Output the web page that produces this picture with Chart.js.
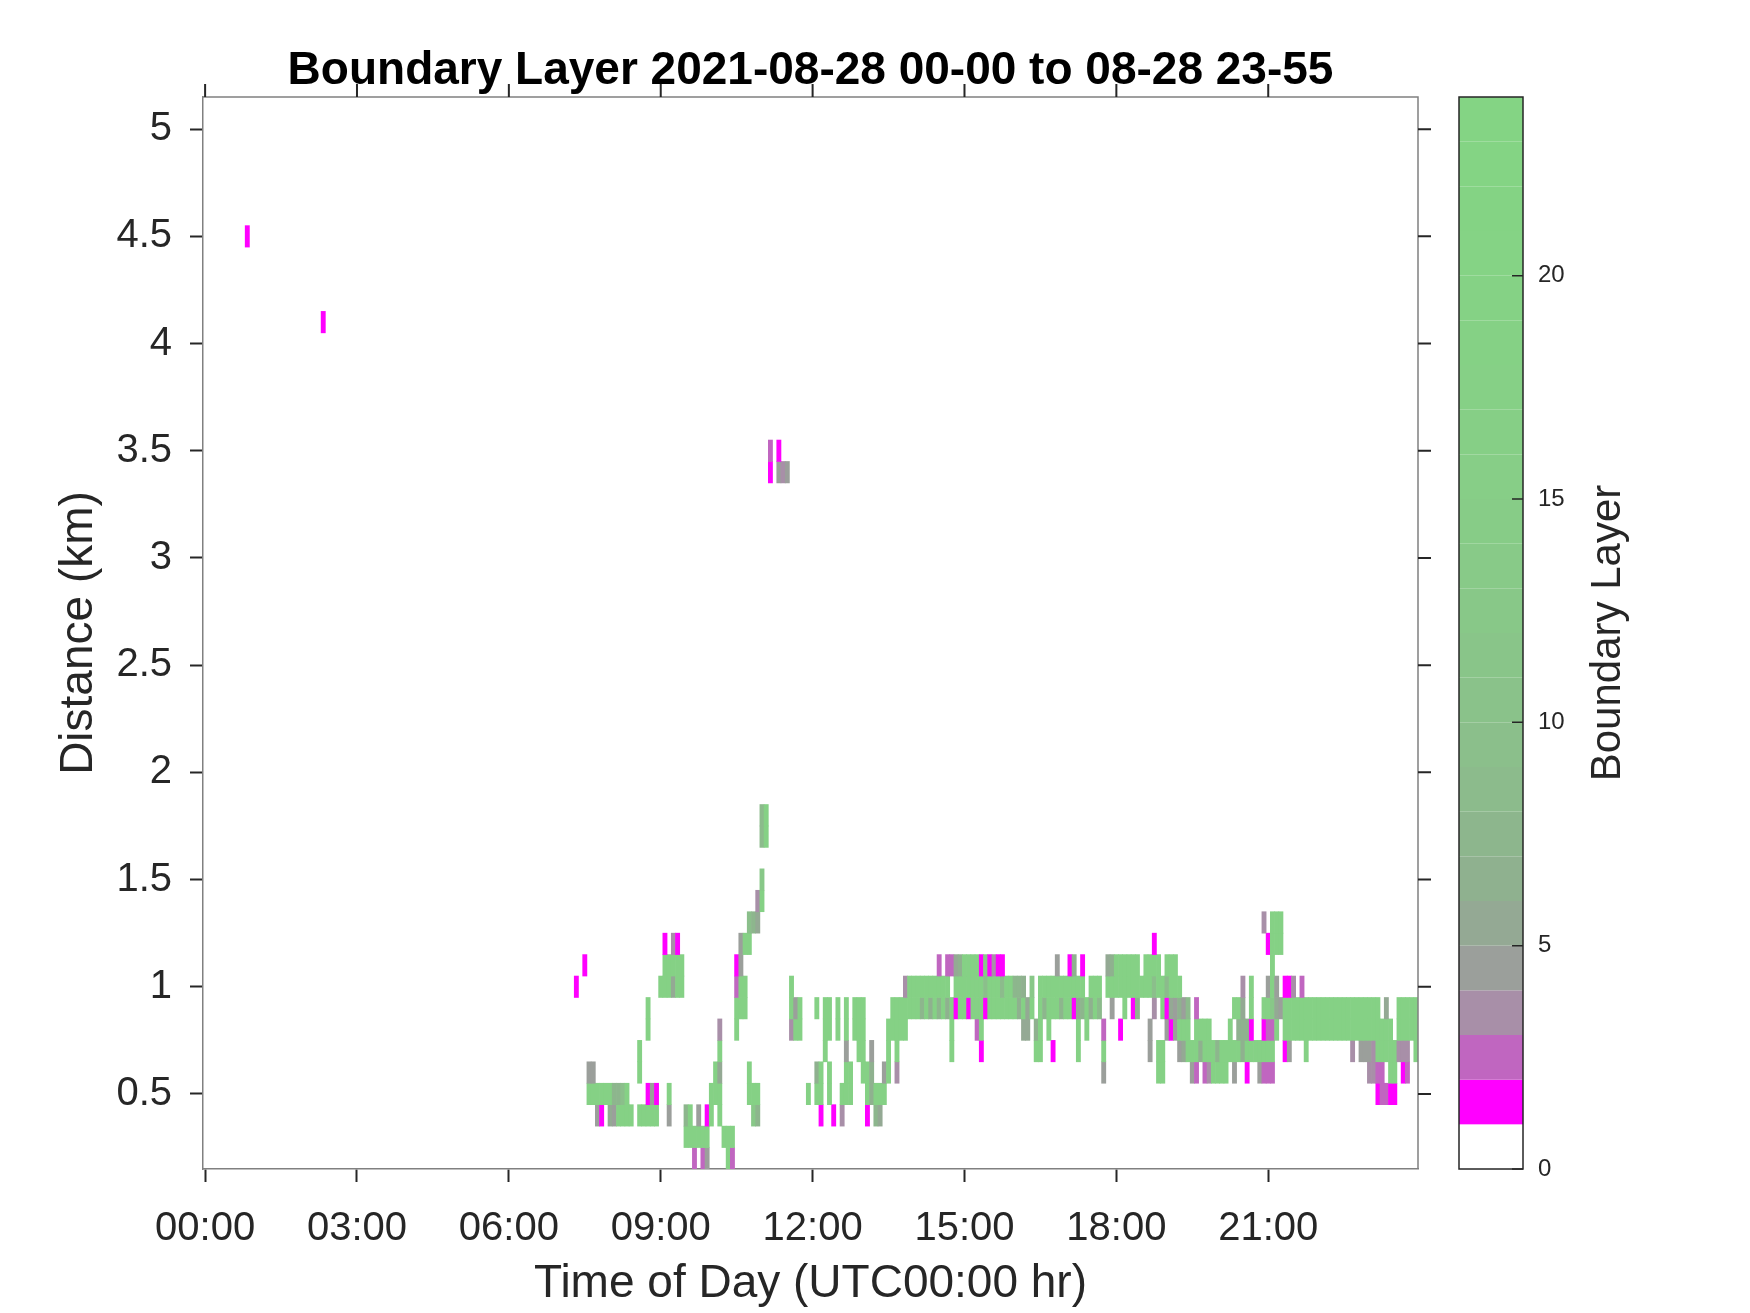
<!DOCTYPE html>
<html>
<head>
<meta charset="utf-8">
<title>Boundary Layer</title>
<script src="https://cdn.jsdelivr.net/npm/chart.js@4.4.0/dist/chart.umd.min.js"></script>
<style>
  html, body { margin: 0; padding: 0; background: #fff; }
</style>
</head>
<body>
<canvas id="canvas-bl" width="1750" height="1313"></canvas>
<script>
// slot k is the k-th 5 minute step after 00:00 UTC
var slotMinutes = 5;
var rowHalfKm = 0.05;

var timeTicks = [0, 3, 6, 9, 12, 15, 18, 21];
var timeTickLabels = ['00:00', '03:00', '06:00', '09:00', '12:00', '15:00', '18:00', '21:00'];
var distTicks = [0.5, 1, 1.5, 2, 2.5, 3, 3.5, 4, 4.5, 5];
var distTickLabels = ['0.5', '1', '1.5', '2', '2.5', '3', '3.5', '4', '4.5', '5'];
var levelTicks = [0, 5, 10, 15, 20];

// colour of each boundary layer level 0..23
var levelColors = [
  '#ffffff', '#ff00ff', '#c066c0', '#a88fa8', '#9b9f9b', '#94a994',
  '#8fb18f', '#8db68d', '#8cbb8c', '#8bbf8b', '#8ac28a', '#89c589',
  '#88c888', '#88ca88', '#87cc87', '#87ce87', '#86cf86', '#86d086',
  '#85d185', '#85d285', '#85d385', '#84d384', '#84d484', '#84d484'
];

// runs of cells per height row: [first slot, last slot, level]
var rowsKm = [0.2, 0.3, 0.4, 0.5, 0.6, 0.7, 0.8, 0.9, 1.0, 1.1, 1.2, 1.3, 1.4, 1.5, 1.7, 1.8, 3.4, 3.5, 4.1, 4.5];

var runs020 = [[116,116,2],[118,118,2],[119,119,4],[124,124,18],[125,125,2]];
var runs030 = [[114,119,18],[123,125,18]];
var runs040 = [[93,93,4],[94,94,1],[96,96,5],[97,97,4],[98,101,18],[103,107,18],[110,110,4],[114,114,7],
  [115,115,18],[117,117,4],[119,119,1],[120,120,18],[122,122,18],[130,130,12],[131,131,7],[146,146,1],
  [149,149,1],[151,151,3],[157,157,1],[159,159,7],[160,160,5]];
var runs050 = [[91,96,18],[97,98,7],[99,99,9],[100,100,18],[105,105,1],[106,106,4],[107,107,1],[110,110,18],
  [120,122,18],[129,131,18],[143,143,18],[145,146,18],[148,148,18],[151,153,18],[157,157,18],[158,158,6],
  [159,161,18],[278,278,1],[279,280,2],[281,282,1]];
var runs060 = [[91,92,4],[103,103,18],[121,121,18],[122,122,5],[129,129,18],[145,145,6],[146,146,18],
  [148,148,18],[152,153,18],[156,157,18],[158,158,6],[161,161,4],[162,162,18],[164,164,3],[213,213,4],
  [226,227,18],[234,234,4],[235,235,2],[237,237,2],[238,238,3],[239,242,18],[244,244,4],[247,247,1],
  [250,250,4],[251,253,2],[276,277,3],[278,279,2],[281,282,18],[284,284,1],[285,285,2]];
var runs070 = [[103,103,18],[122,122,18],[147,147,18],[152,152,4],[155,156,18],[158,158,4],[162,162,18],
  [164,164,18],[177,177,18],[184,184,1],[197,198,18],[201,201,1],[207,207,18],[213,213,18],[224,224,4],
  [226,227,18],[231,231,4],[232,232,5],[233,235,18],[236,236,6],[237,239,18],[240,240,7],[241,245,18],
  [246,246,6],[247,253,18],[256,256,1],[257,257,4],[261,261,18],[272,272,3],[274,276,4],[277,277,3],
  [278,282,18],[283,285,3],[287,287,18]];
var runs080 = [[105,105,18],[122,122,3],[126,126,18],[139,139,3],[140,141,18],[147,148,18],[150,150,18],
  [152,152,18],[154,156,18],[162,166,18],[177,177,18],[183,183,2],[184,184,18],[194,195,5],[197,197,6],
  [198,198,18],[200,200,18],[207,207,18],[209,209,18],[213,213,2],[217,217,1],[224,224,4],[228,228,4],
  [229,229,1],[230,230,4],[231,233,18],[235,238,18],[243,243,18],[245,247,6],[248,248,1],[251,251,1],
  [252,253,2],[254,254,18],[256,281,18],[283,287,18]];
var runs090 = [[105,105,18],[126,128,18],[139,139,18],[140,140,4],[141,141,18],[145,145,18],[147,148,18],
  [150,150,18],[152,152,18],[154,156,18],[163,169,18],[170,170,7],[171,171,18],[172,172,6],[173,173,18],
  [174,174,7],[175,175,18],[176,176,6],[177,177,18],[178,178,1],[179,180,18],[181,181,1],[182,184,18],
  [185,185,1],[186,192,18],[193,193,6],[194,194,18],[195,195,5],[196,196,18],[198,198,18],[199,199,7],
  [200,202,18],[203,203,7],[204,205,18],[206,206,1],[207,207,5],[208,208,7],[209,209,18],[210,210,6],
  [211,211,18],[212,212,8],[215,215,4],[218,218,18],[220,220,1],[221,221,6],[225,225,3],[227,227,18],
  [228,228,1],[229,229,5],[230,230,4],[231,231,6],[232,232,4],[233,233,8],[235,235,2],[244,245,18],
  [246,246,5],[248,248,18],[251,252,18],[253,253,12],[254,254,5],[255,255,4],[256,278,18],[280,280,5],
  [283,287,18]];
var runs100 = [[88,88,1],[108,110,18],[111,111,5],[112,113,18],[126,126,2],[127,128,18],[139,139,18],
  [166,166,3],[167,176,18],[178,184,18],[185,185,9],[186,188,18],[189,189,8],[190,191,18],[192,193,7],
  [194,194,6],[196,196,12],[198,208,18],[210,212,18],[214,224,18],[225,225,9],[226,227,18],[228,228,8],
  [229,231,18],[246,246,3],[248,248,18],[252,252,4],[253,253,18],[254,254,4],[256,257,1],[258,258,3],
  [260,260,2]];
var runs110 = [[90,90,1],[109,113,18],[126,126,1],[127,127,4],[174,174,2],[176,177,2],[178,178,5],
  [179,179,6],[180,183,18],[184,184,1],[185,185,12],[186,186,1],[187,187,3],[188,189,1],[202,202,4],
  [205,205,1],[206,206,6],[208,208,1],[214,214,5],[215,215,6],[216,221,18],[223,226,18],[228,230,18],
  [253,253,18]];
var runs120 = [[109,109,1],[111,111,3],[112,112,1],[127,127,4],[128,129,18],[225,225,1],[252,252,1],[253,255,18]];
var runs130 = [[129,129,9],[130,130,7],[131,131,5],[251,251,3],[253,255,18]];
var runs140 = [[131,131,3],[132,132,18]];
var runs150 = [[132,132,12]];
var runs170 = [[132,132,8],[133,133,18]];
var runs180 = [[132,132,8],[133,133,18]];
var runs340 = [[134,134,1],[136,136,4],[137,137,3],[138,138,4]];
var runs350 = [[134,134,2],[136,136,1]];
var runs410 = [[28,28,1]];
var runs450 = [[10,10,1]];

var rowRuns = [runs020, runs030, runs040, runs050, runs060, runs070, runs080, runs090, runs100, runs110,
  runs120, runs130, runs140, runs150, runs170, runs180, runs340, runs350, runs410, runs450];

function buildCells() {
    var cells = [];
    rowsKm.forEach(function (h, r) {
        rowRuns[r].forEach(function (run) {
            for (var k = run[0]; k <= run[1]; k++) {
                cells.push({x: k * slotMinutes / 60, y: [h - rowHalfKm, h + rowHalfKm], v: run[2]});
            }
        });
    });
    return cells;
}

var fontFamily = '"Liberation Sans", Arial, Helvetica, sans-serif';
var textColor = '#262626';
var halfSlotHours = slotMinutes / 2 / 60;

var frameAndColorbar = {
    id: 'frameAndColorbar',
    afterDraw: function (chart) {
        var ctx = chart.ctx;
        var area = chart.chartArea;
        var xs = chart.scales.x, ys = chart.scales.y, cb = chart.scales.cb;
        ctx.save();

        // top and right sides of the box
        ctx.strokeStyle = '#808080';
        ctx.lineWidth = 1.5;
        ctx.beginPath();
        ctx.moveTo(area.left, area.top);
        ctx.lineTo(area.right, area.top);
        ctx.lineTo(area.right, area.bottom);
        ctx.stroke();

        // mirrored ticks, pointing out
        ctx.strokeStyle = textColor;
        ctx.lineWidth = 2;
        ctx.beginPath();
        xs.ticks.forEach(function (t) {
            var px = xs.getPixelForValue(t.value);
            ctx.moveTo(px, area.top);
            ctx.lineTo(px, area.top - 13);
        });
        ys.ticks.forEach(function (t) {
            var py = ys.getPixelForValue(t.value);
            ctx.moveTo(area.right, py);
            ctx.lineTo(area.right + 13, py);
        });
        ctx.stroke();

        // colour bar
        var barLeft = cb.left + 41, barRight = cb.left + 105;
        levelColors.forEach(function (c, i) {
            var top = cb.getPixelForValue(i + 1), bottom = cb.getPixelForValue(i);
            ctx.fillStyle = c;
            ctx.fillRect(barLeft, top, barRight - barLeft, bottom - top);
        });
        ctx.strokeStyle = textColor;
        ctx.lineWidth = 1.5;
        ctx.strokeRect(barLeft, cb.getPixelForValue(24), barRight - barLeft,
            cb.getPixelForValue(0) - cb.getPixelForValue(24));
        ctx.beginPath();
        levelTicks.forEach(function (v) {
            var py = cb.getPixelForValue(v);
            ctx.moveTo(barRight - 11, py);
            ctx.lineTo(barRight, py);
        });
        ctx.stroke();

        ctx.fillStyle = textColor;
        ctx.font = '42px ' + fontFamily;
        ctx.textAlign = 'center';
        ctx.textBaseline = 'middle';
        ctx.save();
        ctx.translate(cb.left + 190, (area.top + area.bottom) / 2);
        ctx.rotate(-Math.PI / 2);
        ctx.fillText('Boundary Layer', 0, 0);
        ctx.restore();

        // title
        ctx.fillStyle = '#000000';
        ctx.font = 'bold 46px ' + fontFamily;
        ctx.textBaseline = 'alphabetic';
        ctx.fillText('Boundary Layer 2021-08-28 00-00 to 08-28 23-55', (area.left + area.right) / 2, 84);
        ctx.restore();
    }
};

function noVerticalPadding(s) {
    s.paddingTop = 0;
    s.paddingBottom = 0;
}

function plotBoundaryLayer() {
    var cells = buildCells();
    var config = {
        type: 'bar',
        data: {
            datasets: [{
                data: cells,
                backgroundColor: function (c) {
                    var cell = c.raw;
                    return cell ? levelColors[cell.v] : '#fff';
                },
                borderWidth: 0,
                barPercentage: 1,
                categoryPercentage: 1,
                grouped: false
            }]
        },
        options: {
            responsive: false,
            animation: false,
            layout: { padding: { top: 97, right: 100, bottom: 0, left: 0 } },
            plugins: { legend: { display: false }, tooltip: { enabled: false }, title: { display: false } },
            scales: {
                x: {
                    type: 'linear',
                    offset: false,
                    min: -halfSlotHours,
                    max: 24 - halfSlotHours,
                    afterBuildTicks: function (s) {
                        s.ticks = timeTicks.map(function (v) { return {value: v}; });
                    },
                    afterFit: function (s) { s.height = 144; },
                    ticks: {
                        autoSkip: false, maxRotation: 0, padding: 23, color: textColor,
                        font: { size: 40, family: fontFamily },
                        callback: function (v, i) { return timeTickLabels[i]; }
                    },
                    grid: { offset: false, drawOnChartArea: false, drawTicks: true, tickLength: 13, tickWidth: 2, tickColor: textColor },
                    border: { display: true, color: '#808080', width: 1.5 },
                    title: {
                        display: true, text: 'Time of Day (UTC00:00 hr)', color: textColor,
                        font: { size: 46, family: fontFamily }, padding: { top: 0, bottom: 1 }
                    }
                },
                y: {
                    type: 'linear',
                    min: 0.15,
                    max: 5.15,
                    afterBuildTicks: function (s) {
                        s.ticks = distTicks.map(function (v) { return {value: v}; });
                    },
                    afterFit: function (s) { s.width = 203; noVerticalPadding(s); },
                    ticks: {
                        padding: 18, color: textColor,
                        font: { size: 40, family: fontFamily },
                        callback: function (v, i) { return distTickLabels[i]; }
                    },
                    grid: { drawOnChartArea: false, drawTicks: true, tickLength: 13, tickWidth: 2, tickColor: textColor },
                    border: { display: true, color: '#808080', width: 1.5 },
                    title: {
                        display: true, text: 'Distance (km)', color: textColor,
                        font: { size: 46, family: fontFamily }, padding: { top: 52, bottom: 0 }
                    }
                },
                cb: {
                    type: 'linear',
                    position: 'right',
                    min: 0,
                    max: 24,
                    afterBuildTicks: function (s) {
                        s.ticks = levelTicks.map(function (v) { return {value: v}; });
                    },
                    afterFit: function (s) { s.width = 232; noVerticalPadding(s); },
                    ticks: {
                        padding: 120, color: textColor,
                        font: { size: 24, family: fontFamily },
                        callback: function (v) { return String(v); }
                    },
                    grid: { display: false, drawTicks: false },
                    border: { display: false }
                }
            }
        },
        plugins: [frameAndColorbar]
    };

    var ctx = document.getElementById('canvas-bl');
    window.blChart = new Chart(ctx, config);
}

plotBoundaryLayer();
</script>
</body>
</html>
